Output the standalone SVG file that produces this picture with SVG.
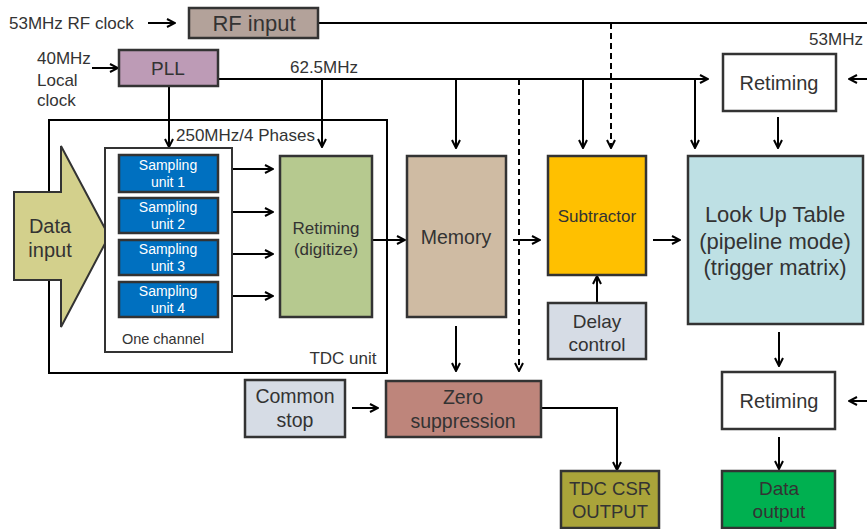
<svg xmlns="http://www.w3.org/2000/svg" width="867" height="529" viewBox="0 0 867 529">
<defs>
<marker id="ah" viewBox="0 0 10 10" refX="9" refY="5" markerWidth="10" markerHeight="10" markerUnits="userSpaceOnUse" orient="auto">
<path d="M1,1 L9,5 L1,9" fill="none" stroke="#000" stroke-width="2"/>
</marker>
</defs>
<style>
text{font-family:"Liberation Sans",Arial,sans-serif;fill:#333;text-anchor:middle}
.b{stroke:#333;stroke-width:2.5}
.c{fill:none;stroke:#000;stroke-width:2}
.a{marker-end:url(#ah)}
.d{stroke-dasharray:6,4}
.l{text-anchor:start}
.w{fill:#fff}
</style>
<rect width="867" height="529" fill="#fff"/>
<g id="connectors">
<line class="c a" x1="148" y1="23" x2="175" y2="23"/>
<line class="c" x1="318" y1="23" x2="867" y2="23"/>
<line class="c d a" x1="611" y1="23" x2="611" y2="148"/>
<line class="c a" x1="92" y1="68" x2="118" y2="68"/>
<line class="c a" x1="218" y1="79" x2="708" y2="79"/>
<line class="c a" x1="169" y1="86" x2="169" y2="147"/>
<line class="c a" x1="322" y1="79" x2="322" y2="147"/>
<line class="c a" x1="456" y1="79" x2="456" y2="148"/>
<line class="c d a" x1="519" y1="79" x2="519" y2="371"/>
<line class="c a" x1="583" y1="79" x2="583" y2="148"/>
<line class="c a" x1="695" y1="79" x2="695" y2="148"/>
<line class="c a" x1="867" y1="79" x2="849" y2="79"/>
<line class="c a" x1="778" y1="117" x2="778" y2="148"/>
<line class="c a" x1="225" y1="169" x2="273" y2="169"/>
<line class="c a" x1="225" y1="212" x2="273" y2="212"/>
<line class="c a" x1="225" y1="254" x2="273" y2="254"/>
<line class="c a" x1="225" y1="296" x2="273" y2="296"/>
<line class="c a" x1="372" y1="240" x2="405" y2="240"/>
<line class="c a" x1="513" y1="240" x2="540" y2="240"/>
<line class="c a" x1="653" y1="240" x2="680" y2="240"/>
<line class="c a" x1="597" y1="303" x2="597" y2="276"/>
<line class="c a" x1="456" y1="326" x2="456" y2="371"/>
<line class="c a" x1="779" y1="332" x2="779" y2="366"/>
<line class="c a" x1="867" y1="401" x2="849" y2="401"/>
<line class="c a" x1="779" y1="437" x2="779" y2="469"/>
<line class="c a" x1="352" y1="408" x2="378" y2="408"/>
<polyline class="c a" points="541,408 617,408 617,470"/>
</g>
<text class="l" x="9" y="29" font-size="17">53MHz RF clock</text>
<text class="l" x="37" y="64" font-size="17">40MHz</text>
<text class="l" x="37" y="86" font-size="17">Local</text>
<text class="l" x="37" y="106" font-size="17">clock</text>
<text x="324" y="73" font-size="17">62.5MHz</text>
<text x="836" y="45" font-size="17">53MHz</text>
<text class="l" x="176" y="141" font-size="17">250MHz/4 Phases</text>
<g id="rf-input"><rect class="b" x="189" y="8" width="129" height="30" fill="#b3a29a"/><text x="254" y="31" font-size="22">RF input</text></g>
<g id="pll"><rect class="b" x="119" y="50" width="99" height="36" fill="#bd9bb6"/><text x="168" y="75" font-size="19">PLL</text></g>
<g id="tdc-unit"><rect x="49" y="120" width="338" height="253" fill="none" stroke="#000" stroke-width="2"/><text x="343" y="364" font-size="17">TDC unit</text></g>
<g id="data-input"><polygon points="14,192 61,192 61,146 109,236 61,327 61,280 14,280" fill="#d3d08c" stroke="#333" stroke-width="2"/><text x="50" y="233" font-size="20">Data</text><text x="50" y="257" font-size="20">input</text></g>
<g id="one-channel"><rect x="105" y="148" width="127" height="204" fill="#fff" stroke="#333" stroke-width="2"/><text x="163" y="344" font-size="14.5">One channel</text></g>
<g id="sampling-1"><rect class="b" x="119" y="155" width="99" height="37" fill="#0070c0"/><text class="w" x="168" y="170" font-size="14">Sampling</text><text class="w" x="168" y="187" font-size="14">unit 1</text></g>
<g id="sampling-2"><rect class="b" x="119" y="198" width="99" height="35" fill="#0070c0"/><text class="w" x="168" y="212" font-size="14">Sampling</text><text class="w" x="168" y="229" font-size="14">unit 2</text></g>
<g id="sampling-3"><rect class="b" x="119" y="240" width="99" height="35" fill="#0070c0"/><text class="w" x="168" y="254" font-size="14">Sampling</text><text class="w" x="168" y="271" font-size="14">unit 3</text></g>
<g id="sampling-4"><rect class="b" x="119" y="282" width="99" height="35" fill="#0070c0"/><text class="w" x="168" y="296" font-size="14">Sampling</text><text class="w" x="168" y="313" font-size="14">unit 4</text></g>
<g id="retiming-digitize"><rect class="b" x="280" y="156" width="92" height="161" fill="#b6c98f"/><text x="326" y="234" font-size="17">Retiming</text><text x="326" y="255" font-size="17">(digitize)</text></g>
<g id="memory"><rect class="b" x="407" y="156" width="99" height="161" fill="#cfbba3"/><text x="456" y="244" font-size="19.5">Memory</text></g>
<g id="subtractor"><rect class="b" x="548" y="156" width="98" height="119" fill="#ffc000"/><text x="597" y="222" font-size="17">Subtractor</text></g>
<g id="delay-control"><rect class="b" x="548" y="303" width="98" height="56" fill="#d6dce5"/><text x="597" y="328" font-size="19">Delay</text><text x="597" y="351" font-size="19">control</text></g>
<g id="lut"><rect class="b" x="688" y="156" width="175" height="168" fill="#bee0e4"/><text x="775" y="222" font-size="22">Look Up Table</text><text x="775" y="249" font-size="22">(pipeline mode)</text><text x="775" y="275" font-size="22">(trigger matrix)</text></g>
<g id="retiming-top"><rect class="b" x="723" y="54" width="113" height="57" fill="#fff"/><text x="779" y="90" font-size="20">Retiming</text></g>
<g id="retiming-bottom"><rect class="b" x="722" y="372" width="113" height="57" fill="#fff"/><text x="779" y="408" font-size="20">Retiming</text></g>
<g id="data-output"><rect class="b" x="722" y="471" width="113" height="57" fill="#00b050"/><text x="779" y="495" font-size="19">Data</text><text x="779" y="518" font-size="19">output</text></g>
<g id="common-stop"><rect class="b" x="245" y="380" width="100" height="57" fill="#d6dce5"/><text x="295" y="403" font-size="19.5">Common</text><text x="295" y="427" font-size="19.5">stop</text></g>
<g id="zero-suppression"><rect class="b" x="386" y="381" width="155" height="56" fill="#be857b"/><text x="463" y="404" font-size="19.5">Zero</text><text x="463" y="428" font-size="19.5">suppression</text></g>
<g id="tdc-csr-output"><rect class="b" x="561" y="471" width="98" height="57" fill="#aaa43a"/><text x="610" y="495" font-size="18.5">TDC CSR</text><text x="610" y="518" font-size="18.5">OUTPUT</text></g>
</svg>
